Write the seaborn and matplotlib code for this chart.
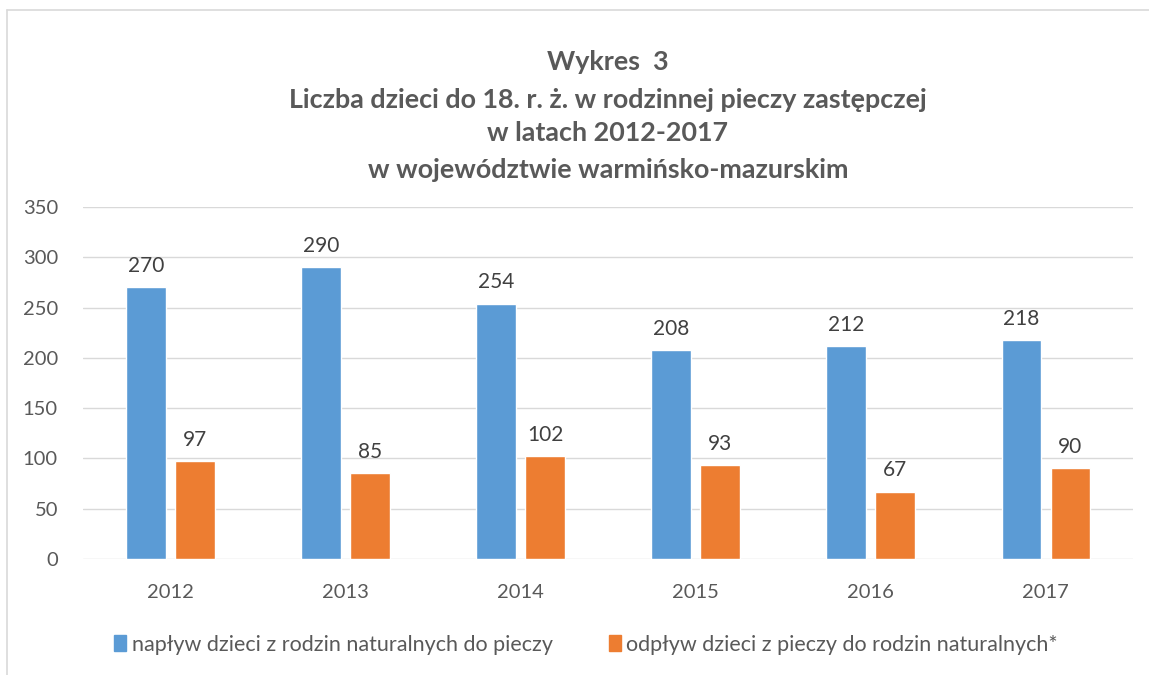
import matplotlib.pyplot as plt
import matplotlib.lines as mlines
import seaborn as sns
import pandas as pd

years = ["2012", "2013", "2014", "2015", "2016", "2017"]
inflow = [270, 290, 254, 208, 212, 218]
outflow = [97, 85, 102, 93, 67, 90]
series_names = ["napływ dzieci z rodzin naturalnych do pieczy",
                "odpływ dzieci z pieczy do rodzin naturalnych*"]
title_lines = ["Wykres  3",
               "Liczba dzieci do 18. r. ż. w rodzinnej pieczy zastępczej",
               "w latach 2012-2017",
               "w województwie warmińsko-mazurskim"]

df = pd.DataFrame({
    "rok": years * 2,
    "liczba": inflow + outflow,
    "seria": [series_names[0]] * len(years) + [series_names[1]] * len(years),
})

sns.set_theme(style="white")
plt.rcParams["font.family"] = ["Lato", "DejaVu Sans"]

fig = plt.figure(figsize=(11.49, 6.75), dpi=100)
ax = fig.add_axes([0.0722, 0.1719, 0.914, 0.5214])

palette = {series_names[0]: "#5b9bd5", series_names[1]: "#ed7d31"}
sns.barplot(data=df, x="rok", y="liczba", hue="seria", palette=palette,
            width=0.56, gap=0.2, saturation=1, ax=ax, legend=False)

for cont in ax.containers:
    ax.bar_label(cont, padding=8, fontsize=15, color="#404040")

ax.set_ylim(0, 350)
ax.set_yticks(range(0, 351, 50))
ax.set_xlim(-0.5, len(years) - 0.5)
ax.grid(axis="y", color="#d9d9d9", linewidth=1)
ax.set_axisbelow(True)
for s in ax.spines.values():
    s.set_visible(False)
ax.tick_params(axis="both", length=0, labelsize=14.5, labelcolor="#595959")
ax.tick_params(axis="y", pad=18)
ax.tick_params(axis="x", pad=18)
ax.set_xlabel("")
ax.set_ylabel("")

# title
ys = [0.908, 0.852, 0.803, 0.748]
for txt, y in zip(title_lines, ys):
    fig.text(0.529, y, txt, ha="center", va="center", fontsize=19.4,
             fontweight="bold", color="#595959")

# legend
handles = [plt.Rectangle((0, 0), 1, 1, color=palette[n]) for n in series_names]
fig.legend(handles, series_names, loc="center", bbox_to_anchor=(0.51, 0.045),
           ncol=2, frameon=False, fontsize=15.5, labelcolor="#595959",
           handlelength=0.55, handleheight=0.8, handletextpad=0.25,
           columnspacing=2.6)

# chart frame
fig.add_artist(mlines.Line2D([0.006, 0.006], [0.0, 0.985], color="#d9d9d9", lw=1.2))
fig.add_artist(mlines.Line2D([0.006, 1.0], [0.985, 0.985], color="#d9d9d9", lw=1.2))

fig.savefig("out.png", dpi=100)
